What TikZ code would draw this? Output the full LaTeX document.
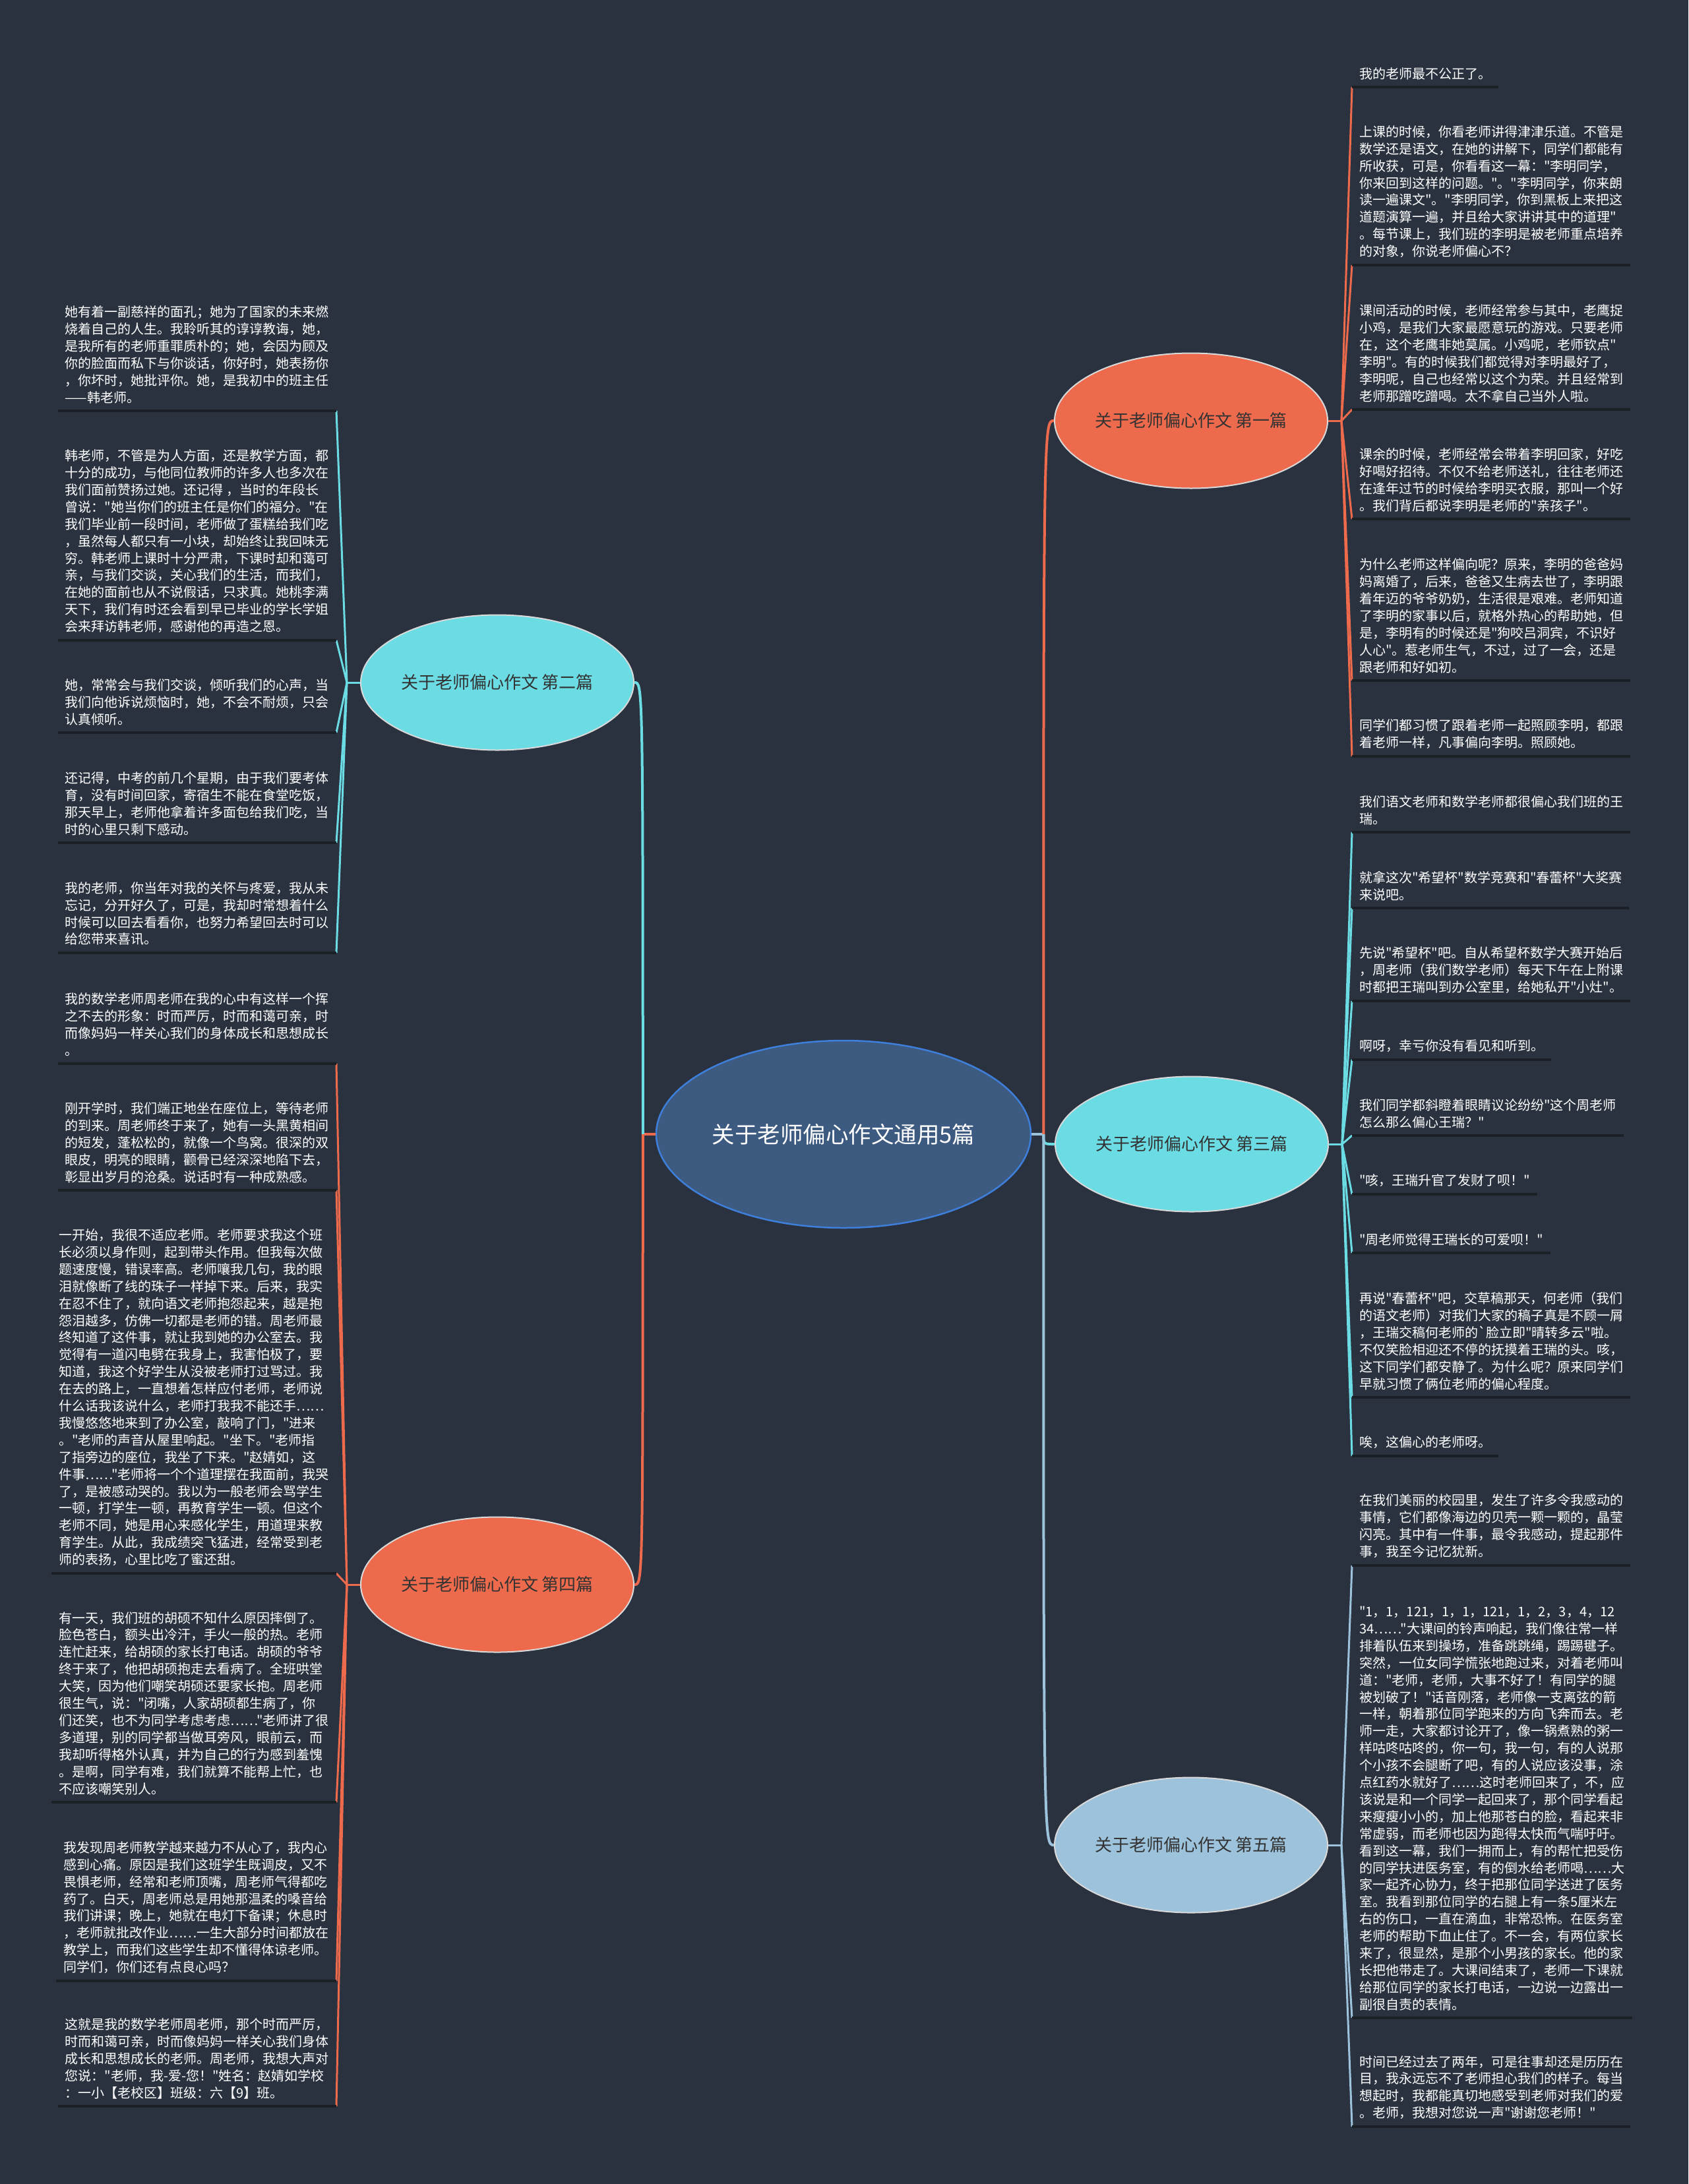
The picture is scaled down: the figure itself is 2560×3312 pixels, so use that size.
\documentclass[tikz,border=0pt]{standalone}
\usepackage{fontspec}
\newfontfamily\cjk{Noto Sans CJK SC}
\usetikzlibrary{shapes.geometric}
\definecolor{bgcol}{HTML}{2A3240}
\definecolor{topiccol}{HTML}{3D5A80}
\definecolor{topicedge}{HTML}{3E7FDB}
\definecolor{orangecol}{HTML}{EE6A4C}
\definecolor{cyancol}{HTML}{6BDCE3}
\definecolor{bluecol}{HTML}{9DC2DB}
\definecolor{ulcol}{HTML}{1B1F26}
\definecolor{branchtext}{HTML}{333333}

\begin{document}
\begin{tikzpicture}[x=1pt,y=-1pt,
  topicnode/.style={ellipse,fill=topiccol,draw=topicedge,line width=2.5pt,minimum width=568pt,minimum height=284pt,inner sep=0pt,text=white,font=\cjk\fontsize{34.5}{40}\selectfont},
  branchnode/.style={ellipse,fill=#1,draw=white!85!black,line width=2pt,minimum width=414pt,minimum height=205pt,inner sep=0pt,text=branchtext,font=\cjk\fontsize{26}{30}\selectfont},
  leafnode/.style={align=left,inner xsep=11pt,inner ysep=11pt,text=white,font=\cjk\fontsize{20}{25.9}\selectfont},
  leafr/.style={leafnode,anchor=south west},
  leafl/.style={leafnode,anchor=south east},
  uline/.style={draw=ulcol,line width=3.5pt},
  topicline/.style={draw=#1,line width=4pt},
  leafline/.style={draw=#1,line width=3pt}]
\fill[bgcol] (0,0) rectangle (2560,3312);

% topic and branches
\node[topicnode] (topic) at (1279,1720) {关于老师偏心作文通用5篇};
\node[branchnode=orangecol] (b1) at (1806,638) {关于老师偏心作文 第一篇};
\node[branchnode=cyancol] (b2) at (754,1035) {关于老师偏心作文 第二篇};
\node[branchnode=cyancol] (b3) at (1807,1735) {关于老师偏心作文 第三篇};
\node[branchnode=orangecol] (b4) at (754,2403) {关于老师偏心作文 第四篇};
\node[branchnode=bluecol] (b5) at (1806,2798) {关于老师偏心作文 第五篇};

\coordinate (jr) at ([xshift=18pt]topic.east);
\coordinate (jl) at ([xshift=-19pt]topic.west);
\draw[topicline=bluecol] (topic.east) -- (jr);
\draw[topicline=orangecol] (topic.west) -- (jl);
\draw[topicline=orangecol] (jr) .. controls (jr |- b1.west) .. (b1.west);
\draw[topicline=cyancol] (jr) .. controls (jr |- b3.west) .. (b3.west);
\draw[topicline=bluecol] (jr) .. controls (jr |- b5.west) .. (b5.west);
\draw[topicline=cyancol] (jl) .. controls (jl |- b2.east) .. (b2.east);
\draw[topicline=orangecol] (jl) .. controls (jl |- b4.east) .. (b4.east);

\coordinate (j1) at ([xshift=20pt]b1.east);
\coordinate (j2) at ([xshift=-20pt]b2.west);
\coordinate (j3) at ([xshift=20pt]b3.east);
\coordinate (j4) at ([xshift=-20pt]b4.west);
\coordinate (j5) at ([xshift=20pt]b5.east);
\draw[leafline=orangecol] (b1.east) -- (j1);
\draw[leafline=cyancol] (b2.west) -- (j2);
\draw[leafline=cyancol] (b3.east) -- (j3);
\draw[leafline=orangecol] (b4.west) -- (j4);
\draw[leafline=bluecol] (b5.east) -- (j5);

% first
\foreach \n/\y/\txt in {
 1/132/{我的老师最不公正了。},
 2/402/{上课的时候，你看老师讲得津津乐道。不管是\\数学还是语文，在她的讲解下，同学们都能有\\所收获，可是，你看看这一幕："李明同学，\\你来回到这样的问题。"。"李明同学，你来朗\\读一遍课文"。"李明同学，你到黑板上来把这\\道题演算一遍，并且给大家讲讲其中的道理"\\。每节课上，我们班的李明是被老师重点培养\\的对象，你说老师偏心不？},
 3/621/{课间活动的时候，老师经常参与其中，老鹰捉\\小鸡，是我们大家最愿意玩的游戏。只要老师\\在，这个老鹰非她莫属。小鸡呢，老师钦点"\\李明"。有的时候我们都觉得对李明最好了，\\李明呢，自己也经常以这个为荣。并且经常到\\老师那蹭吃蹭喝。太不拿自己当外人啦。},
 4/787/{课余的时候，老师经常会带着李明回家，好吃\\好喝好招待。不仅不给老师送礼，往往老师还\\在逢年过节的时候给李明买衣服，那叫一个好\\。我们背后都说李明是老师的"亲孩子"。},
 5/1032/{为什么老师这样偏向呢？原来，李明的爸爸妈\\妈离婚了，后来，爸爸又生病去世了，李明跟\\着年迈的爷爷奶奶，生活很是艰难。老师知道\\了李明的家事以后，就格外热心的帮助她，但\\是，李明有的时候还是"狗咬吕洞宾，不识好\\人心"。惹老师生气，不过，过了一会，还是\\跟老师和好如初。},
 6/1147/{同学们都习惯了跟着老师一起照顾李明，都跟\\着老师一样，凡事偏向李明。照顾她。}} {
  \node[leafr] (r\n) at (2050,\y) {\txt};
  \draw[leafline=orangecol] (j1) -- (r\n.south west);
  \draw[uline] (r\n.south west) -- (r\n.south east);
}

% third
\foreach \n/\y/\txt in {
 7/1262/{我们语文老师和数学老师都很偏心我们班的王\\瑞。},
 8/1377/{就拿这次"希望杯"数学竞赛和"春蕾杯"大奖赛\\来说吧。},
 9/1518/{先说"希望杯"吧。自从希望杯数学大赛开始后\\，周老师（我们数学老师）每天下午在上附课\\时都把王瑞叫到办公室里，给她私开"小灶"。},
 10/1607/{啊呀，幸亏你没有看见和听到。},
 11/1722/{我们同学都斜瞪着眼睛议论纷纷"这个周老师\\怎么那么偏心王瑞？"},
 12/1811/{"咳，王瑞升官了发财了呗！"},
 13/1900/{"周老师觉得王瑞长的可爱呗！"},
 14/2119/{再说"春蕾杯"吧，交草稿那天，何老师（我们\\的语文老师）对我们大家的稿子真是不顾一屑\\，王瑞交稿何老师的`脸立即"晴转多云"啦。\\不仅笑脸相迎还不停的抚摸着王瑞的头。咳，\\这下同学们都安静了。为什么呢？原来同学们\\早就习惯了俩位老师的偏心程度。},
 15/2208/{唉，这偏心的老师呀。}} {
  \node[leafr] (r\n) at (2050,\y) {\txt};
  \draw[leafline=cyancol] (j3) -- (r\n.south west);
  \draw[uline] (r\n.south west) -- (r\n.south east);
}

% fifth
\foreach \n/\y/\txt in {
 16/2374/{在我们美丽的校园里，发生了许多令我感动的\\事情，它们都像海边的贝壳一颗一颗的，晶莹\\闪亮。其中有一件事，最令我感动，提起那件\\事，我至今记忆犹新。},
 17/3060/{"1，1，121，1，1，121，1，2，3，4，12\\34……"大课间的铃声响起，我们像往常一样\\排着队伍来到操场，准备跳跳绳，踢踢毽子。\\突然，一位女同学慌张地跑过来，对着老师叫\\道："老师，老师，大事不好了！有同学的腿\\被划破了！"话音刚落，老师像一支离弦的箭\\一样，朝着那位同学跑来的方向飞奔而去。老\\师一走，大家都讨论开了，像一锅煮熟的粥一\\样咕咚咕咚的，你一句，我一句，有的人说那\\个小孩不会腿断了吧，有的人说应该没事，涂\\点红药水就好了……这时老师回来了，不，应\\该说是和一个同学一起回来了，那个同学看起\\来瘦瘦小小的，加上他那苍白的脸，看起来非\\常虚弱，而老师也因为跑得太快而气喘吁吁。\\看到这一幕，我们一拥而上，有的帮忙把受伤\\的同学扶进医务室，有的倒水给老师喝……大\\家一起齐心协力，终于把那位同学送进了医务\\室。我看到那位同学的右腿上有一条5厘米左\\右的伤口，一直在滴血，非常恐怖。在医务室\\老师的帮助下血止住了。不一会，有两位家长\\来了，很显然，是那个小男孩的家长。他的家\\长把他带走了。大课间结束了，老师一下课就\\给那位同学的家长打电话，一边说一边露出一\\副很自责的表情。},
 18/3225/{时间已经过去了两年，可是往事却还是历历在\\目，我永远忘不了老师担心我们的样子。每当\\想起时，我都能真切地感受到老师对我们的爱\\。老师，我想对您说一声"谢谢您老师！"}} {
  \node[leafr] (r\n) at (2050,\y) {\txt};
  \draw[leafline=bluecol] (j5) -- (r\n.south west);
  \draw[uline] (r\n.south west) -- (r\n.south east);
}

% second
\foreach \n/\y/\txt in {
 1/623/{她有着一副慈祥的面孔；她为了国家的未来燃\\烧着自己的人生。我聆听其的谆谆教诲，她，\\是我所有的老师重罪质朴的；她，会因为顾及\\你的脸面而私下与你谈话，你好时，她表扬你\\，你坏时，她批评你。她，是我初中的班主任\\——韩老师。},
 2/971/{韩老师，不管是为人方面，还是教学方面，都\\十分的成功，与他同位教师的许多人也多次在\\我们面前赞扬过她。还记得 ，当时的年段长\\曾说："她当你们的班主任是你们的福分。"在\\我们毕业前一段时间，老师做了蛋糕给我们吃\\，虽然每人都只有一小块，却始终让我回味无\\穷。韩老师上课时十分严肃，下课时却和蔼可\\亲，与我们交谈，关心我们的生活，而我们，\\在她的面前也从不说假话，只求真。她桃李满\\天下，我们有时还会看到早已毕业的学长学姐\\会来拜访韩老师，感谢他的再造之恩。},
 3/1111/{她，常常会与我们交谈，倾听我们的心声，当\\我们向他诉说烦恼时，她，不会不耐烦，只会\\认真倾听。},
 4/1278/{还记得，中考的前几个星期，由于我们要考体\\育，没有时间回家，寄宿生不能在食堂吃饭，\\那天早上，老师他拿着许多面包给我们吃，当\\时的心里只剩下感动。},
 5/1445/{我的老师，你当年对我的关怀与疼爱，我从未\\忘记，分开好久了，可是，我却时常想着什么\\时候可以回去看看你，也努力希望回去时可以\\给您带来喜讯。}} {
  \node[leafl] (l\n) at (510,\y) {\txt};
  \draw[leafline=cyancol] (j2) -- (l\n.south east);
  \draw[uline] (l\n.south west) -- (l\n.south east);
}

% fourth
\foreach \n/\y/\txt in {
 6/1613/{我的数学老师周老师在我的心中有这样一个挥\\之不去的形象：时而严厉，时而和蔼可亲，时\\而像妈妈一样关心我们的身体成长和思想成长\\。},
 7/1805/{刚开学时，我们端正地坐在座位上，等待老师\\的到来。周老师终于来了，她有一头黑黄相间\\的短发，蓬松松的，就像一个鸟窝。很深的双\\眼皮，明亮的眼睛，颧骨已经深深地陷下去，\\彰显出岁月的沧桑。说话时有一种成熟感。},
 8/2386/{一开始，我很不适应老师。老师要求我这个班\\长必须以身作则，起到带头作用。但我每次做\\题速度慢，错误率高。老师嚷我几句，我的眼\\泪就像断了线的珠子一样掉下来。后来，我实\\在忍不住了，就向语文老师抱怨起来，越是抱\\怨泪越多，仿佛一切都是老师的错。周老师最\\终知道了这件事，就让我到她的办公室去。我\\觉得有一道闪电劈在我身上，我害怕极了，要\\知道，我这个好学生从没被老师打过骂过。我\\在去的路上，一直想着怎样应付老师，老师说\\什么话我该说什么，老师打我我不能还手……\\我慢悠悠地来到了办公室，敲响了门，"进来\\。"老师的声音从屋里响起。"坐下。"老师指\\了指旁边的座位，我坐了下来。"赵婧如，这\\件事……"老师将一个个道理摆在我面前，我哭\\了，是被感动哭的。我以为一般老师会骂学生\\一顿，打学生一顿，再教育学生一顿。但这个\\老师不同，她是用心来感化学生，用道理来教\\育学生。从此，我成绩突飞猛进，经常受到老\\师的表扬，心里比吃了蜜还甜。},
 9/2733/{有一天，我们班的胡硕不知什么原因摔倒了。\\脸色苍白，额头出冷汗，手火一般的热。老师\\连忙赶来，给胡硕的家长打电话。胡硕的爷爷\\终于来了，他把胡硕抱走去看病了。全班哄堂\\大笑，因为他们嘲笑胡硕还要家长抱。周老师\\很生气，说："闭嘴，人家胡硕都生病了，你\\们还笑，也不为同学考虑考虑……"老师讲了很\\多道理，别的同学都当做耳旁风，眼前云，而\\我却听得格外认真，并为自己的行为感到羞愧\\。是啊，同学有难，我们就算不能帮上忙，也\\不应该嘲笑别人。},
 10/3004/{我发现周老师教学越来越力不从心了，我内心\\感到心痛。原因是我们这班学生既调皮，又不\\畏惧老师，经常和老师顶嘴，周老师气得都吃\\药了。白天，周老师总是用她那温柔的嗓音给\\我们讲课；晚上，她就在电灯下备课；休息时\\，老师就批改作业……一生大部分时间都放在\\教学上，而我们这些学生却不懂得体谅老师。\\同学们，你们还有点良心吗？},
 11/3194/{这就是我的数学老师周老师，那个时而严厉，\\时而和蔼可亲，时而像妈妈一样关心我们身体\\成长和思想成长的老师。周老师，我想大声对\\您说："老师，我-爱-您！"姓名：赵婧如学校\\：一小【老校区】班级：六【9】班。}} {
  \node[leafl] (l\n) at (510,\y) {\txt};
  \draw[leafline=orangecol] (j4) -- (l\n.south east);
  \draw[uline] (l\n.south west) -- (l\n.south east);
}
\end{tikzpicture}
\end{document}
